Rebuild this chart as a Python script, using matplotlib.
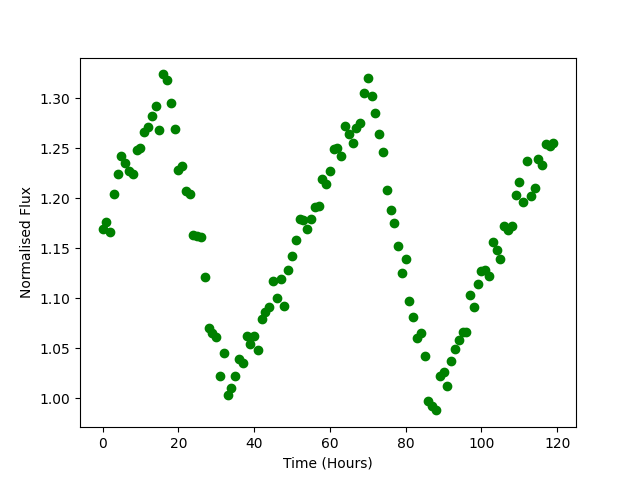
import matplotlib
matplotlib.use("Agg")
import matplotlib.pyplot as plt

hours = list(range(120))

flux = [
    1.169, 1.176, 1.166, 1.204, 1.224, 1.242, 1.235, 1.227, 1.224, 1.248,
    1.250, 1.266, 1.271, 1.282, 1.292, 1.268, 1.324, 1.318, 1.295, 1.269,
    1.228, 1.232, 1.207, 1.204, 1.163, 1.162, 1.161, 1.121, 1.070, 1.065,
    1.061, 1.022, 1.045, 1.003, 1.010, 1.022, 1.039, 1.035, 1.062, 1.054,
    1.062, 1.048, 1.079, 1.086, 1.091, 1.117, 1.100, 1.119, 1.092, 1.128,
    1.142, 1.158, 1.179, 1.178, 1.169, 1.179, 1.191, 1.192, 1.219, 1.214,
    1.227, 1.249, 1.250, 1.242, 1.272, 1.264, 1.255, 1.270, 1.275, 1.305,
    1.320, 1.302, 1.285, 1.264, 1.246, 1.208, 1.188, 1.175, 1.152, 1.125,
    1.139, 1.097, 1.081, 1.060, 1.065, 1.042, 0.997, 0.992, 0.988, 1.022,
    1.026, 1.012, 1.037, 1.049, 1.058, 1.066, 1.066, 1.103, 1.091, 1.114,
    1.127, 1.128, 1.122, 1.156, 1.148, 1.139, 1.172, 1.168, 1.172, 1.203,
    1.216, 1.196, 1.237, 1.202, 1.210, 1.239, 1.233, 1.254, 1.252, 1.255,
]

fig = plt.figure(figsize=(6.4, 4.8), dpi=100)
plt.plot(hours, flux, 'go')
plt.xlabel("Time (Hours)")
plt.ylabel("Normalised Flux")
plt.savefig("out.png")
